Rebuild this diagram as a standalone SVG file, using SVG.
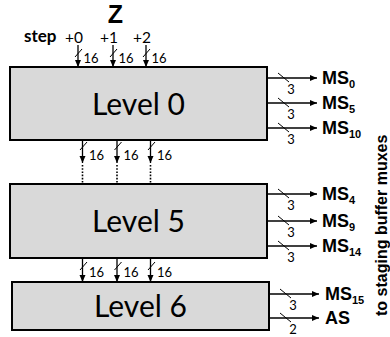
<svg xmlns="http://www.w3.org/2000/svg" width="390" height="337" viewBox="0 0 390 337">
<style>
.box{fill:#d9d9d9;stroke:#000;stroke-width:2}
.lvl{font-family:Lato,"Open Sans",sans-serif;font-size:30px;text-anchor:middle;fill:#000}
.w{font-family:Lato,"Open Sans",sans-serif;font-size:13px;fill:#000}
.st{font-family:Lato,"Open Sans",sans-serif;font-size:15.5px;fill:#000;text-anchor:middle}
.ln{stroke:#000;stroke-width:1.3;fill:none}
.sl{stroke:#000;stroke-width:1;fill:none}
.dot{stroke:#000;stroke-width:1.6;stroke-dasharray:1.6 1.6;fill:none}
.ms{font-family:"Liberation Sans",Arial,sans-serif;font-size:18px;font-weight:bold;fill:#000}
.n{font-family:Lato,"Open Sans",sans-serif;font-size:13px;text-anchor:middle;fill:#000}
</style>
<defs>
<marker id="ah" markerWidth="8" markerHeight="8" refX="7" refY="4" orient="auto" markerUnits="userSpaceOnUse">
<path d="M0,1 L7,4 L0,7 Z" fill="#000"/>
</marker>
</defs>

<g id="header">
<text x="115.5" y="22.5" font-family="Liberation Sans,Arial,sans-serif" font-size="25" font-weight="bold" text-anchor="middle">Z</text>
<text x="24" y="42" font-family="Lato,'Open Sans',sans-serif" font-size="17" font-weight="bold">step</text>
<text class="st" x="74" y="42.5">+0</text>
<text class="st" x="109" y="42.5">+1</text>
<text class="st" x="142" y="42.5">+2</text>
</g>

<g id="level0">
<rect class="box" x="10" y="67" width="257" height="73"/>
<text class="lvl" x="138.5" y="115">Level 0</text>
</g>
<g id="level5">
<rect class="box" x="10" y="184" width="257" height="74"/>
<text class="lvl" x="138.5" y="232">Level 5</text>
</g>
<g id="level6">
<rect class="box" x="12" y="282" width="257" height="48"/>
<text class="lvl" x="140.5" y="317">Level 6</text>
</g>

<g id="outputs">
<text class="ms" x="322" y="84">MS<tspan font-size="11" dy="4">0</tspan></text>
<text class="ms" x="322" y="109">MS<tspan font-size="11" dy="4">5</tspan></text>
<text class="ms" x="322" y="134">MS<tspan font-size="11" dy="4">10</tspan></text>
<text class="ms" x="322" y="200">MS<tspan font-size="11" dy="4">4</tspan></text>
<text class="ms" x="322" y="227">MS<tspan font-size="11" dy="4">9</tspan></text>
<text class="ms" x="322" y="252">MS<tspan font-size="11" dy="4">14</tspan></text>
<text class="ms" x="325" y="300">MS<tspan font-size="11" dy="4">15</tspan></text>
<text class="ms" x="325" y="324">AS</text>
<text class="ms" style="font-size:16px" transform="translate(387,316) rotate(-90)">to staging buffer muxes</text>
</g>

<g id="connectors">
<line class="ln" x1="78" y1="45" x2="78" y2="67" marker-end="url(#ah)"/>
<line class="ln" x1="113" y1="45" x2="113" y2="67" marker-end="url(#ah)"/>
<line class="ln" x1="146" y1="45" x2="146" y2="67" marker-end="url(#ah)"/>
<line class="sl" x1="75" y1="57" x2="82" y2="49"/>
<line class="sl" x1="110" y1="57" x2="117" y2="49"/>
<line class="sl" x1="143" y1="57" x2="150" y2="49"/>
<text class="w" x="83.5" y="63">16</text>
<text class="w" x="118.5" y="63">16</text>
<text class="w" x="151.5" y="63">16</text>

<line class="ln" x1="82.5" y1="140" x2="82.5" y2="163" marker-end="url(#ah)"/>
<line class="ln" x1="117" y1="140" x2="117" y2="163" marker-end="url(#ah)"/>
<line class="ln" x1="150.5" y1="140" x2="150.5" y2="163" marker-end="url(#ah)"/>
<line class="sl" x1="80" y1="150" x2="87" y2="142"/>
<line class="sl" x1="114.5" y1="150" x2="121.5" y2="142"/>
<line class="sl" x1="148" y1="150" x2="155" y2="142"/>
<text class="w" x="89" y="160">16</text>
<text class="w" x="123.5" y="160">16</text>
<text class="w" x="157" y="160">16</text>
<line class="dot" x1="82.5" y1="165" x2="82.5" y2="184"/>
<line class="dot" x1="117" y1="165" x2="117" y2="184"/>
<line class="dot" x1="150.5" y1="165" x2="150.5" y2="184"/>

<line class="ln" x1="82.5" y1="258" x2="82.5" y2="282" marker-end="url(#ah)"/>
<line class="ln" x1="117" y1="258" x2="117" y2="282" marker-end="url(#ah)"/>
<line class="ln" x1="150.5" y1="258" x2="150.5" y2="282" marker-end="url(#ah)"/>
<line class="sl" x1="80" y1="270" x2="87" y2="262"/>
<line class="sl" x1="114.5" y1="270" x2="121.5" y2="262"/>
<line class="sl" x1="148" y1="270" x2="155" y2="262"/>
<text class="w" x="89" y="277">16</text>
<text class="w" x="123.5" y="277">16</text>
<text class="w" x="157" y="277">16</text>

<line class="ln" x1="267" y1="78" x2="317" y2="78" marker-end="url(#ah)"/>
<line class="ln" x1="267" y1="103" x2="317" y2="103" marker-end="url(#ah)"/>
<line class="ln" x1="267" y1="128" x2="317" y2="128" marker-end="url(#ah)"/>
<line class="sl" x1="278" y1="73" x2="289" y2="82"/>
<line class="sl" x1="278" y1="98" x2="289" y2="107"/>
<line class="sl" x1="278" y1="123" x2="289" y2="132"/>
<text class="n" x="291" y="93.5">3</text>
<text class="n" x="291" y="118.5">3</text>
<text class="n" x="291" y="143.5">3</text>

<line class="ln" x1="267" y1="194" x2="317" y2="194" marker-end="url(#ah)"/>
<line class="ln" x1="267" y1="221" x2="317" y2="221" marker-end="url(#ah)"/>
<line class="ln" x1="267" y1="246" x2="317" y2="246" marker-end="url(#ah)"/>
<line class="sl" x1="278" y1="189" x2="289" y2="198"/>
<line class="sl" x1="278" y1="216" x2="289" y2="225"/>
<line class="sl" x1="278" y1="241" x2="289" y2="250"/>
<text class="n" x="291" y="209.5">3</text>
<text class="n" x="291" y="236.5">3</text>
<text class="n" x="291" y="261.5">3</text>

<line class="ln" x1="269" y1="294" x2="319" y2="294" marker-end="url(#ah)"/>
<line class="ln" x1="269" y1="318" x2="319" y2="318" marker-end="url(#ah)"/>
<line class="sl" x1="280" y1="289" x2="291" y2="298"/>
<line class="sl" x1="280" y1="313" x2="291" y2="322"/>
<text class="n" x="293" y="309.5">3</text>
<text class="n" x="293" y="333.5">2</text>
</g>
</svg>
